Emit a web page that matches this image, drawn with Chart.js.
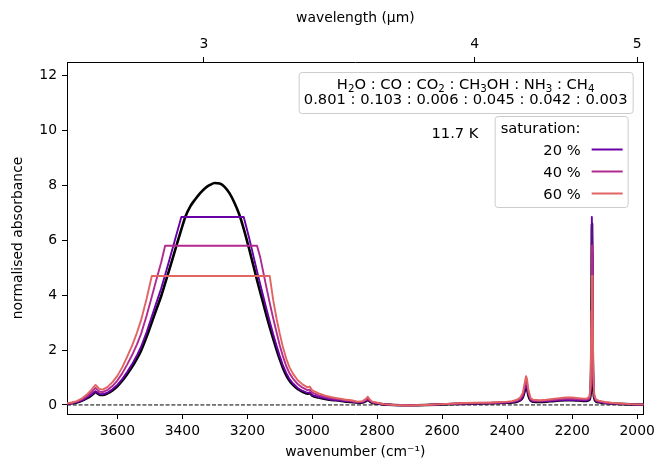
<!DOCTYPE html>
<html>
<head>
<meta charset="utf-8">
<script src="https://cdn.jsdelivr.net/npm/chart.js@4.4.1/dist/chart.umd.min.js"></script>
<style>
  html, body { margin: 0; padding: 0; background: #fff; }
  #spectrum { display: block; }
</style>
</head>
<body>
<canvas id="spectrum" width="659" height="461"></canvas>
<script>
// wavenumber grid (cm^-1), shared by every spectrum
const wavenumber = [
  3756, 3740, 3725, 3710, 3695, 3680, 3672, 3667, 3662, 3655,
  3645, 3630, 3615, 3600, 3585, 3570, 3555, 3540, 3527, 3510,
  3494, 3480, 3465, 3453, 3435, 3420, 3403, 3390, 3375, 3360,
  3345, 3330, 3315, 3300, 3285, 3270, 3255, 3240, 3225, 3211,
  3195, 3180, 3170, 3160, 3150, 3140, 3131, 3120, 3110, 3100,
  3090, 3080, 3070, 3060, 3045, 3030, 3015, 3008, 3000, 2980,
  2960, 2940, 2920, 2900, 2880, 2860, 2845, 2835, 2829, 2823,
  2815, 2800, 2780, 2750, 2700, 2650, 2600, 2550, 2500, 2450,
  2400, 2385, 2370, 2360, 2352, 2346, 2342, 2339, 2335, 2328,
  2320, 2300, 2280, 2260, 2240, 2220, 2200, 2180, 2165, 2155,
  2147, 2143, 2141, 2140, 2139, 2138, 2137, 2135, 2132, 2127,
  2118, 2100, 2080, 2060, 2040, 2020, 2000, 1980
];

// unsaturated spectrum
const absPure = [
  0.04, 0.06, 0.09, 0.15, 0.24, 0.35, 0.43, 0.47, 0.43, 0.37,
  0.36, 0.42, 0.53, 0.68, 0.88, 1.12, 1.38, 1.68, 1.98, 2.48,
  3.01, 3.48, 3.97, 4.43, 5.13, 5.73, 6.40, 6.88, 7.25, 7.50,
  7.72, 7.90, 8.02, 8.09, 8.07, 7.95, 7.72, 7.38, 6.95, 6.42,
  5.72, 5.02, 4.55, 4.10, 3.66, 3.22, 2.84, 2.40, 2.02, 1.66,
  1.34, 1.08, 0.88, 0.74, 0.58, 0.48, 0.41, 0.43, 0.34, 0.27,
  0.22, 0.18, 0.16, 0.13, 0.11, 0.08, 0.09, 0.14, 0.19, 0.13,
  0.08, 0.05, 0.02, 0.00, -0.01, 0.00, 0.02, 0.04, 0.05, 0.06,
  0.08, 0.09, 0.12, 0.17, 0.28, 0.52, 0.67, 0.60, 0.36, 0.16,
  0.12, 0.11, 0.12, 0.14, 0.16, 0.17, 0.17, 0.16, 0.15, 0.15,
  0.19, 0.45, 2.20, 5.00, 6.60, 5.20, 2.40, 0.70, 0.25, 0.13,
  0.10, 0.07, 0.05, 0.04, 0.03, 0.02, 0.01, 0.01
];

// 20 % saturation
const abs20 = [
  0.04, 0.06, 0.10, 0.16, 0.26, 0.37, 0.46, 0.50, 0.46, 0.40,
  0.39, 0.45, 0.57, 0.73, 0.94, 1.20, 1.48, 1.80, 2.12, 2.65,
  3.22, 3.72, 4.25, 4.74, 5.49, 6.13, 6.85, 6.85, 6.85, 6.85,
  6.85, 6.85, 6.85, 6.85, 6.85, 6.85, 6.85, 6.85, 6.85, 6.85,
  6.12, 5.37, 4.87, 4.39, 3.92, 3.45, 3.04, 2.57, 2.16, 1.78,
  1.43, 1.16, 0.94, 0.79, 0.62, 0.51, 0.44, 0.46, 0.36, 0.29,
  0.24, 0.19, 0.17, 0.14, 0.12, 0.09, 0.10, 0.15, 0.20, 0.14,
  0.09, 0.05, 0.02, 0.00, -0.01, 0.00, 0.02, 0.04, 0.05, 0.06,
  0.09, 0.10, 0.13, 0.18, 0.30, 0.56, 0.72, 0.64, 0.39, 0.17,
  0.13, 0.12, 0.13, 0.15, 0.17, 0.18, 0.18, 0.17, 0.16, 0.16,
  0.20, 0.48, 2.35, 5.35, 6.85, 5.56, 2.57, 0.75, 0.27, 0.14,
  0.11, 0.07, 0.05, 0.04, 0.03, 0.02, 0.01, 0.01
];

// 40 % saturation
const abs40 = [
  0.05, 0.08, 0.12, 0.20, 0.31, 0.46, 0.56, 0.62, 0.56, 0.48,
  0.47, 0.55, 0.69, 0.89, 1.15, 1.47, 1.81, 2.20, 2.59, 3.25,
  3.94, 4.56, 5.20, 5.80, 5.80, 5.80, 5.80, 5.80, 5.80, 5.80,
  5.80, 5.80, 5.80, 5.80, 5.80, 5.80, 5.80, 5.80, 5.80, 5.80,
  5.80, 5.80, 5.80, 5.37, 4.79, 4.22, 3.72, 3.14, 2.65, 2.17,
  1.76, 1.41, 1.15, 0.97, 0.76, 0.63, 0.54, 0.56, 0.45, 0.35,
  0.29, 0.24, 0.21, 0.17, 0.14, 0.10, 0.12, 0.18, 0.25, 0.17,
  0.10, 0.07, 0.03, 0.00, -0.01, 0.00, 0.03, 0.05, 0.07, 0.08,
  0.10, 0.12, 0.16, 0.22, 0.37, 0.68, 0.88, 0.79, 0.47, 0.21,
  0.16, 0.14, 0.16, 0.18, 0.21, 0.22, 0.22, 0.21, 0.20, 0.20,
  0.25, 0.59, 2.88, 5.80, 5.80, 5.80, 3.14, 0.92, 0.33, 0.17,
  0.13, 0.09, 0.07, 0.05, 0.04, 0.03, 0.01, 0.01
];

// 60 % saturation
const abs60 = [
  0.06, 0.09, 0.14, 0.23, 0.37, 0.55, 0.67, 0.73, 0.67, 0.58,
  0.56, 0.66, 0.83, 1.06, 1.37, 1.75, 2.15, 2.62, 3.09, 3.87,
  4.70, 4.70, 4.70, 4.70, 4.70, 4.70, 4.70, 4.70, 4.70, 4.70,
  4.70, 4.70, 4.70, 4.70, 4.70, 4.70, 4.70, 4.70, 4.70, 4.70,
  4.70, 4.70, 4.70, 4.70, 4.70, 4.70, 4.70, 3.80, 3.15, 2.59,
  2.09, 1.68, 1.37, 1.15, 0.90, 0.75, 0.64, 0.67, 0.53, 0.42,
  0.34, 0.28, 0.24, 0.20, 0.17, 0.12, 0.14, 0.22, 0.30, 0.20,
  0.12, 0.08, 0.03, 0.00, -0.02, 0.00, 0.03, 0.06, 0.08, 0.09,
  0.12, 0.14, 0.19, 0.27, 0.44, 0.81, 1.05, 0.94, 0.56, 0.25,
  0.19, 0.17, 0.19, 0.22, 0.25, 0.27, 0.27, 0.25, 0.23, 0.23,
  0.30, 0.70, 3.43, 4.70, 4.70, 4.70, 3.74, 1.09, 0.39, 0.20,
  0.16, 0.11, 0.08, 0.06, 0.05, 0.03, 0.02, 0.02
];

// dashed zero level, end to end
const zeroWavenumber = [3755, 1980];
const zeroAbs = [0, 0];

const wavenumberTicks = [3600, 3400, 3200, 3000, 2800, 2600, 2400, 2200, 2000];
const wavelengthTicks = [3, 4, 5];
const absorbanceTicks = [0, 2, 4, 6, 8, 10, 12];

const saturationLabels = ['20 %', '40 %', '60 %'];
const species = ['H₂O', 'CO', 'CO₂', 'CH₃OH', 'NH₃', 'CH₄'];
const ratios = ['0.801', '0.103', '0.006', '0.045', '0.042', '0.003'];
const temperature = '11.7 K';

const FONT = '"DejaVu Sans", "Liberation Sans", sans-serif';
const SUBSCRIPTS = '₀₁₂₃₄₅₆₇₈₉';

Chart.defaults.font.family = FONT;
Chart.defaults.font.size = 13.9;
Chart.defaults.color = '#000';

function toPoints(values, xs = wavenumber) {
  return values.map((y, i) => ({ x: xs[i], y }));
}

// split "CH₃OH" into normal and subscript runs
function richParts(text) {
  const parts = [];
  for (const ch of text) {
    const idx = SUBSCRIPTS.indexOf(ch);
    const sub = idx >= 0;
    const c = sub ? String(idx) : ch;
    const last = parts[parts.length - 1];
    if (last && last.sub === sub) last.text += c;
    else parts.push({ text: c, sub });
  }
  return parts;
}

function drawRich(ctx, text, cx, baseline, size) {
  const parts = richParts(text);
  const subSize = size * 0.7;
  let width = 0;
  parts.forEach((p) => {
    ctx.font = `${p.sub ? subSize : size}px ${FONT}`;
    p.w = ctx.measureText(p.text).width;
    width += p.w;
  });
  let x = cx - width / 2;
  ctx.textAlign = 'left';
  ctx.textBaseline = 'alphabetic';
  parts.forEach((p) => {
    ctx.font = `${p.sub ? subSize : size}px ${FONT}`;
    ctx.fillText(p.text, x, baseline + (p.sub ? size * 0.23 : 0));
    x += p.w;
  });
}

function box(ctx, x1, y1, x2, y2) {
  ctx.save();
  ctx.beginPath();
  ctx.roundRect(x1 + 0.5, y1 + 0.5, x2 - x1, y2 - y1, 3);
  ctx.fillStyle = 'rgba(255, 255, 255, 0.8)';
  ctx.fill();
  ctx.strokeStyle = '#cccccc';
  ctx.lineWidth = 1;
  ctx.stroke();
  ctx.restore();
}

const annotations = {
  id: 'annotations',
  afterDraw(chart) {
    const { ctx, chartArea: a } = chart;
    const size = 14.7;
    ctx.save();
    ctx.fillStyle = '#000';

    // ice mixture
    const bx1 = a.right - 345, bx2 = a.right - 11;
    box(ctx, bx1, a.top + 10, bx2, a.top + 51);
    const cx = (bx1 + bx2) / 2;
    drawRich(ctx, species.join(' : '), cx, a.top + 27, size);
    drawRich(ctx, ratios.join(' : '), cx, a.top + 42.3, size);

    // temperature
    ctx.font = `${size}px ${FONT}`;
    ctx.textAlign = 'center';
    ctx.textBaseline = 'alphabetic';
    ctx.fillText(temperature, a.left + 388, a.top + 76);

    // legend
    const lx1 = a.right - 149, lx2 = a.right - 16;
    box(ctx, lx1, a.top + 54, lx2, a.top + 145);
    ctx.textAlign = 'left';
    ctx.fillText('saturation:', lx1 + 6, a.top + 71);
    const entries = chart.data.datasets.filter((d) => saturationLabels.includes(d.label));
    saturationLabels.forEach((label, i) => {
      const ds = entries.find((d) => d.label === label);
      const base = a.top + 93 + i * 22;
      ctx.textAlign = 'right';
      ctx.fillText(label, lx1 + 86, base);
      ctx.beginPath();
      ctx.moveTo(lx1 + 97, base - 5.5);
      ctx.lineTo(lx1 + 128, base - 5.5);
      ctx.strokeStyle = ds.borderColor;
      ctx.lineWidth = 2;
      ctx.stroke();
    });
    ctx.restore();
  }
};

const xMin = 1980, xMax = 3755;
const yMin = -0.33, yMax = 12.5;

const tickGrid = {
  drawOnChartArea: false,
  drawTicks: true,
  tickLength: 5,
  tickColor: '#000',
  tickWidth: 1
};
const spine = { display: true, color: '#000', width: 1 };

new Chart(document.getElementById('spectrum'), {
  type: 'line',
  data: {
    datasets: [
      { label: '60 %', data: toPoints(abs60), borderColor: '#e16462', borderWidth: 1.9, order: 0, tension: 0 },
      { label: '40 %', data: toPoints(abs40), borderColor: '#b12a90', borderWidth: 1.9, order: 1, tension: 0 },
      { label: '20 %', data: toPoints(abs20), borderColor: '#6a00a8', borderWidth: 1.9, order: 2, tension: 0 },
      { label: 'pure', data: toPoints(absPure), borderColor: '#000000', borderWidth: 2.6, order: 3, cubicInterpolationMode: 'monotone' },
      { label: 'zero', data: toPoints(zeroAbs, zeroWavenumber), borderColor: '#000000', borderWidth: 1, borderDash: [4, 1.8], order: 4 }
    ]
  },
  options: {
    responsive: false,
    animation: false,
    devicePixelRatio: 1,
    layout: { padding: { left: 0, right: 15, top: 0, bottom: 0 } },
    elements: { point: { radius: 0 }, line: { fill: false, borderCapStyle: 'butt', borderJoinStyle: 'round' } },
    plugins: { legend: { display: false }, tooltip: { enabled: false } },
    scales: {
      x: {
        type: 'linear',
        position: 'bottom',
        reverse: true,
        min: xMin,
        max: xMax,
        afterBuildTicks: (axis) => { axis.ticks = wavenumberTicks.map((v) => ({ value: v })); },
        afterFit: (axis) => { axis.height = 47; },
        ticks: { callback: (v) => String(v), padding: 4, maxRotation: 0, autoSkip: false },
        grid: tickGrid,
        border: spine,
        title: { display: true, text: 'wavenumber (cm⁻¹)', padding: { top: 0, bottom: 0 } }
      },
      xTop: {
        type: 'linear',
        position: 'top',
        reverse: true,
        min: xMin,
        max: xMax,
        afterBuildTicks: (axis) => { axis.ticks = wavelengthTicks.map((l) => ({ value: 1e4 / l })); },
        afterFit: (axis) => { axis.height = 62; },
        ticks: { callback: (v) => String(Math.round(1e4 / v)), padding: 4, maxRotation: 0, autoSkip: false },
        grid: tickGrid,
        border: spine,
        title: { display: true, text: 'wavelength (µm)', padding: { top: 10, bottom: 0 } }
      },
      y: {
        type: 'linear',
        position: 'left',
        min: yMin,
        max: yMax,
        afterBuildTicks: (axis) => { axis.ticks = absorbanceTicks.map((v) => ({ value: v })); },
        afterFit: (axis) => { axis.width = 67; },
        ticks: { callback: (v) => String(v), padding: 5 },
        grid: tickGrid,
        border: spine,
        title: { display: true, text: 'normalised absorbance', padding: { top: 10, bottom: 0 } }
      },
      yRight: {
        type: 'linear',
        position: 'right',
        min: yMin,
        max: yMax,
        afterFit: (axis) => { axis.width = 0; },
        ticks: { display: false },
        grid: { display: false, drawTicks: false },
        border: spine
      }
    }
  },
  plugins: [annotations]
});
</script>
</body>
</html>
